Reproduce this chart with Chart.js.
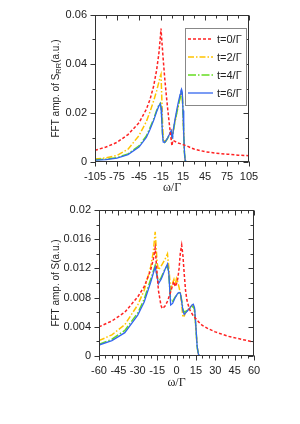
<!DOCTYPE html>
<html>
<head>
<meta charset="utf-8">
<script src="https://cdn.jsdelivr.net/npm/chart.js@4.4.1/dist/chart.umd.min.js"></script>
<style>
  html, body { margin: 0; padding: 0; background: #fff; }
  canvas { display: block; }
</style>
</head>
<body>
<canvas id="c1" width="300" height="200"></canvas>
<canvas id="c2" width="300" height="224"></canvas>
<script>
// ---- series names ----
const seriesLabels = ['t=0/Γ', 't=2/Γ', 't=4/Γ', 't=6/Γ'];

// ---- top panel: S_RR ----
const omegaA = [-105, -90, -75, -60, -45, -35, -30, -25, -21, -18, -16, -15, -14, -13, -12, -10, -8, -6, -4, -2, -1, 0,
  1, 2, 4, 6, 8, 10, 11, 12, 13, 14, 15, 16, 17, 18, 20, 25, 30, 45, 60, 75, 90, 105];
const rrT0 = [.0048, .0061, .0080, .0112, .0160, .0215, .0255, .0310, .0375, .0440, .0505, .0545, .0500, .0460, .0420, .0345, .0280, .0220, .0165, .0112, .0088, .0066,
  .0088, .0087, .0084, .0081, .0078, .0076, .0075, .0074, .0073, .0072, .0071, .0070, .0069, .0068, .0066, .0059, .0053, .0042, .0036, .0032, .0028, .0026];
const rrT2 = [.0012, .0017, .0027, .0052, .0108, .0165, .0205, .0250, .0290, .0325, .0350, .0358, .0270, .0170, .0100, .0082, .0088, .0098, .0110, .0122, .0126, .0104,
  .0110, .0132, .0165, .0195, .0225, .0252, .0265, .0276, .0282, .0272, .0200, .0110, .0035, .0006, 0, 0, 0, 0, 0, 0, 0, 0];
const rrT4 = [.0009, .0012, .0018, .0033, .0066, .0106, .0140, .0176, .0210, .0232, .0240, .0225, .0178, .0118, .0084, .0080, .0087, .0096, .0108, .0120, .0125, .0100,
  .0108, .0130, .0163, .0192, .0220, .0248, .0260, .0272, .0280, .0272, .0205, .0112, .0036, .0006, 0, 0, 0, 0, 0, 0, 0, 0];
const rrT6 = [.0008, .0010, .0016, .0030, .0061, .0100, .0133, .0170, .0205, .0228, .0238, .0222, .0175, .0115, .0082, .0080, .0088, .0098, .0110, .0123, .0128, .0098,
  .0108, .0135, .0172, .0205, .0235, .0262, .0276, .0289, .0297, .0285, .0210, .0115, .0038, .0006, 0, 0, 0, 0, 0, 0, 0, 0];
const xTicksA = [-105, -75, -45, -15, 15, 45, 75, 105];
const xLabelsA = ['-105', '-75', '-45', '-15', '15', '45', '75', '105'];
const yTicksA = [0, 0.02, 0.04, 0.06];
const yLabelsA = ['0', '0.02', '0.04', '0.06'];

// ---- bottom panel: S ----
const omegaB = [-60, -50, -40, -30, -25, -20, -18, -16.5, -15, -14, -12, -11, -9, -7, -6, -4.5, -3, -2, -1, 0,
  1, 2, 3, 4, 5, 6, 7, 8, 10, 12, 13, 14, 15, 16, 17, 18, 20, 25, 30, 40, 50, 60];
const sT0 = [.0040, .0048, .0060, .0081, .0095, .0118, .0132, .0148, .0112, .0090, .0069, .0065, .0068, .0075, .0080, .0088, .0097, .0102, .0095, .0099,
  .0106, .0120, .0142, .0152, .0137, .0112, .0090, .0077, .0064, .0058, .0055, .0053, .0051, .0049, .0047, .0045, .0042, .0037, .0033, .0027, .0023, .0019];
const sT2 = [.0021, .0029, .0043, .0070, .0090, .0122, .0142, .0170, .0128, .0118, .0123, .0126, .0132, .0140, .0122, .0090, .0100, .0105, .0097, .0106,
  .0101, .0094, .0086, .0070, .0053, .0055, .0059, .0062, .0066, .0069, .0068, .0060, .0038, .0012, .0002, 0, 0, 0, 0, 0, 0, 0];
const sT4 = [.0016, .0023, .0035, .0059, .0078, .0105, .0116, .0124, .0110, .0101, .0107, .0111, .0119, .0124, .0112, .0075, .0075, .0078, .0081, .0083,
  .0085, .0086, .0085, .0077, .0064, .0060, .0061, .0062, .0064, .0067, .0068, .0063, .0039, .0012, .0002, 0, 0, 0, 0, 0, 0, 0];
const sT6 = [.0015, .0021, .0032, .0056, .0074, .0101, .0113, .0122, .0108, .0099, .0105, .0109, .0118, .0126, .0114, .0070, .0072, .0076, .0080, .0083,
  .0086, .0087, .0086, .0075, .0062, .0057, .0059, .0061, .0065, .0070, .0071, .0066, .0041, .0013, .0002, 0, 0, 0, 0, 0, 0, 0];
const xTicksB = [-60, -45, -30, -15, 0, 15, 30, 45, 60];
const xLabelsB = ['-60', '-45', '-30', '-15', '0', '15', '30', '45', '60'];
const yTicksB = [0, 0.004, 0.008, 0.012, 0.016, 0.02];
const yLabelsB = ['0', '0.004', '0.008', '0.012', '0.016', '0.02'];

// ---- styles ----
const lineStyles = [
  { color: '#ff2222', dash: [3, 2], width: 1.5, order: 0 },
  { color: '#ffc400', dash: [6, 2, 1.5, 2], width: 1.5, order: 3 },
  { color: '#66dd22', dash: [8, 2, 1.5, 2], width: 1.5, order: 2 },
  { color: '#3366ee', dash: [], width: 1.3, order: 1 }
];

Chart.defaults.font.family = '"Liberation Sans", Arial, sans-serif';
Chart.defaults.font.size = 11;
Chart.defaults.color = '#222';

function steps(min, max, step) {
  const out = [];
  for (let v = min; v <= max + step / 1000; v += step) out.push(+v.toFixed(6));
  return out;
}

function makeSets(omega, series) {
  return series.map((vals, i) => ({
    label: seriesLabels[i],
    data: omega.map((w, k) => ({ x: w, y: vals[k] })),
    borderColor: lineStyles[i].color,
    borderDash: lineStyles[i].dash,
    borderWidth: lineStyles[i].width,
    order: lineStyles[i].order,
    pointRadius: 0,
    tension: 0,
    fill: false
  }));
}

// frame, ticks, titles and the boxed legend
const decor = {
  id: 'decor',
  afterDraw(chart, args, o) {
    const { ctx, chartArea: a, scales: { x, y } } = chart;
    const L = Math.round(a.left) + 0.5, R = Math.round(a.right) - 0.5;
    const T = Math.round(a.top) + 0.5, B = Math.round(a.bottom) - 0.5;
    ctx.save();
    ctx.strokeStyle = '#333';
    ctx.lineWidth = 1;
    ctx.setLineDash([]);
    ctx.strokeRect(L, T, R - L, B - T);
    ctx.beginPath();
    o.xMinor.forEach(v => {
      const px = Math.round(x.getPixelForValue(v)) + 0.5;
      const len = o.xMajor.includes(v) ? 5 : 3;
      ctx.moveTo(px, B); ctx.lineTo(px, B + len);
      ctx.moveTo(px, T); ctx.lineTo(px, T + len);
    });
    o.yMinor.forEach(v => {
      const py = Math.round(y.getPixelForValue(v)) + 0.5;
      const len = o.yMajor.some(m => Math.abs(m - v) < 1e-9) ? 5 : 3;
      ctx.moveTo(L, py); ctx.lineTo(L - len, py);
      ctx.moveTo(R, py); ctx.lineTo(R - len, py);
    });
    ctx.stroke();

    // x title
    ctx.fillStyle = '#222';
    ctx.font = '12px "Liberation Serif", "Times New Roman", serif';
    ctx.textAlign = 'center';
    ctx.textBaseline = 'middle';
    ctx.fillText('ω/Γ', (a.left + a.right) / 2, o.xTitleY);

    // y title with subscript
    ctx.translate(o.yTitleX, (a.top + a.bottom) / 2);
    ctx.rotate(-Math.PI / 2);
    ctx.textAlign = 'left';
    ctx.textBaseline = 'alphabetic';
    let total = 0;
    o.yTitle.forEach(p => { ctx.font = p[1] + 'px "Liberation Sans", Arial, sans-serif'; total += ctx.measureText(p[0]).width; });
    let cx = -total / 2;
    o.yTitle.forEach(p => {
      ctx.font = p[1] + 'px "Liberation Sans", Arial, sans-serif';
      ctx.fillText(p[0], cx, 3.5 + p[2]);
      cx += ctx.measureText(p[0]).width;
    });
    ctx.restore();

    if (o.legend) {
      const lg = o.legend;
      ctx.save();
      ctx.strokeStyle = '#888';
      ctx.lineWidth = 1;
      ctx.fillStyle = '#fff';
      ctx.fillRect(lg.x + 0.5, lg.y + 0.5, lg.w, lg.h);
      ctx.strokeRect(lg.x + 0.5, lg.y + 0.5, lg.w, lg.h);
      ctx.font = '11px "Liberation Sans", Arial, sans-serif';
      ctx.textBaseline = 'middle';
      chart.data.datasets.forEach((ds, i) => {
        const yy = lg.y + lg.first + i * lg.gap;
        ctx.strokeStyle = ds.borderColor;
        ctx.lineWidth = ds.borderWidth;
        ctx.setLineDash(ds.borderDash);
        ctx.beginPath();
        ctx.moveTo(lg.x + 3, yy); ctx.lineTo(lg.x + 28, yy);
        ctx.stroke();
        ctx.fillStyle = '#222';
        ctx.fillText(ds.label, lg.x + 32, yy + 0.5);
      });
      ctx.restore();
    }
  }
};

function makeChart(id, omega, series, xr, yr, xTicks, xLabels, yTicks, yLabels, box, deco) {
  return new Chart(document.getElementById(id), {
    type: 'line',
    data: { datasets: makeSets(omega, series) },
    options: {
      responsive: false,
      animation: false,
      layout: { padding: { left: 0, right: box.right, top: box.top, bottom: 0 } },
      plugins: { legend: { display: false }, tooltip: { enabled: false }, decor: deco },
      scales: {
        x: {
          type: 'linear', min: xr[0], max: xr[1],
          afterBuildTicks: s => { s.ticks = xTicks.map(v => ({ value: v })); },
          afterFit: s => { s.height = box.xh; },
          ticks: { autoSkip: false, maxRotation: 0, padding: 3, callback: (v, i) => xLabels[i] },
          grid: { drawOnChartArea: false, tickLength: 5, color: 'rgba(0,0,0,0)' },
          border: { display: false }
        },
        y: {
          min: yr[0], max: yr[1],
          afterBuildTicks: s => { s.ticks = yTicks.map(v => ({ value: v })); },
          afterFit: s => { s.width = box.yw; },
          ticks: { padding: 3, callback: (v, i) => yLabels[i] },
          grid: { drawOnChartArea: false, tickLength: 5, color: 'rgba(0,0,0,0)' },
          border: { display: false }
        }
      }
    },
    plugins: [decor]
  });
}

makeChart('c1', omegaA, [rrT0, rrT2, rrT4, rrT6], [-105, 105], [0, 0.06],
  xTicksA, xLabelsA, yTicksA, yLabelsA,
  { right: 51, top: 15, xh: 38, yw: 95 },
  {
    xMinor: steps(-105, 105, 15), xMajor: xTicksA,
    yMinor: steps(0, 0.06, 0.01), yMajor: yTicksA,
    xTitleY: 188, yTitleX: 55,
    yTitle: [['FFT amp. of S', 10, 0], ['RR', 7.5, 2.5], ['(a.u.)', 10, 0]],
    legend: { x: 185, y: 28, w: 61, h: 77, first: 11, gap: 18 }
  });

makeChart('c2', omegaB, [sT0, sT2, sT4, sT6], [-60, 60], [0, 0.02],
  xTicksB, xLabelsB, yTicksB, yLabelsB,
  { right: 46, top: 10, xh: 68, yw: 99 },
  {
    xMinor: steps(-60, 60, 5), xMajor: xTicksB,
    yMinor: steps(0, 0.02, 0.002), yMajor: yTicksB,
    xTitleY: 183, yTitleX: 55,
    yTitle: [['FFT amp. of S(a.u.)', 10, 0]],
    legend: null
  });
</script>
</body>
</html>
